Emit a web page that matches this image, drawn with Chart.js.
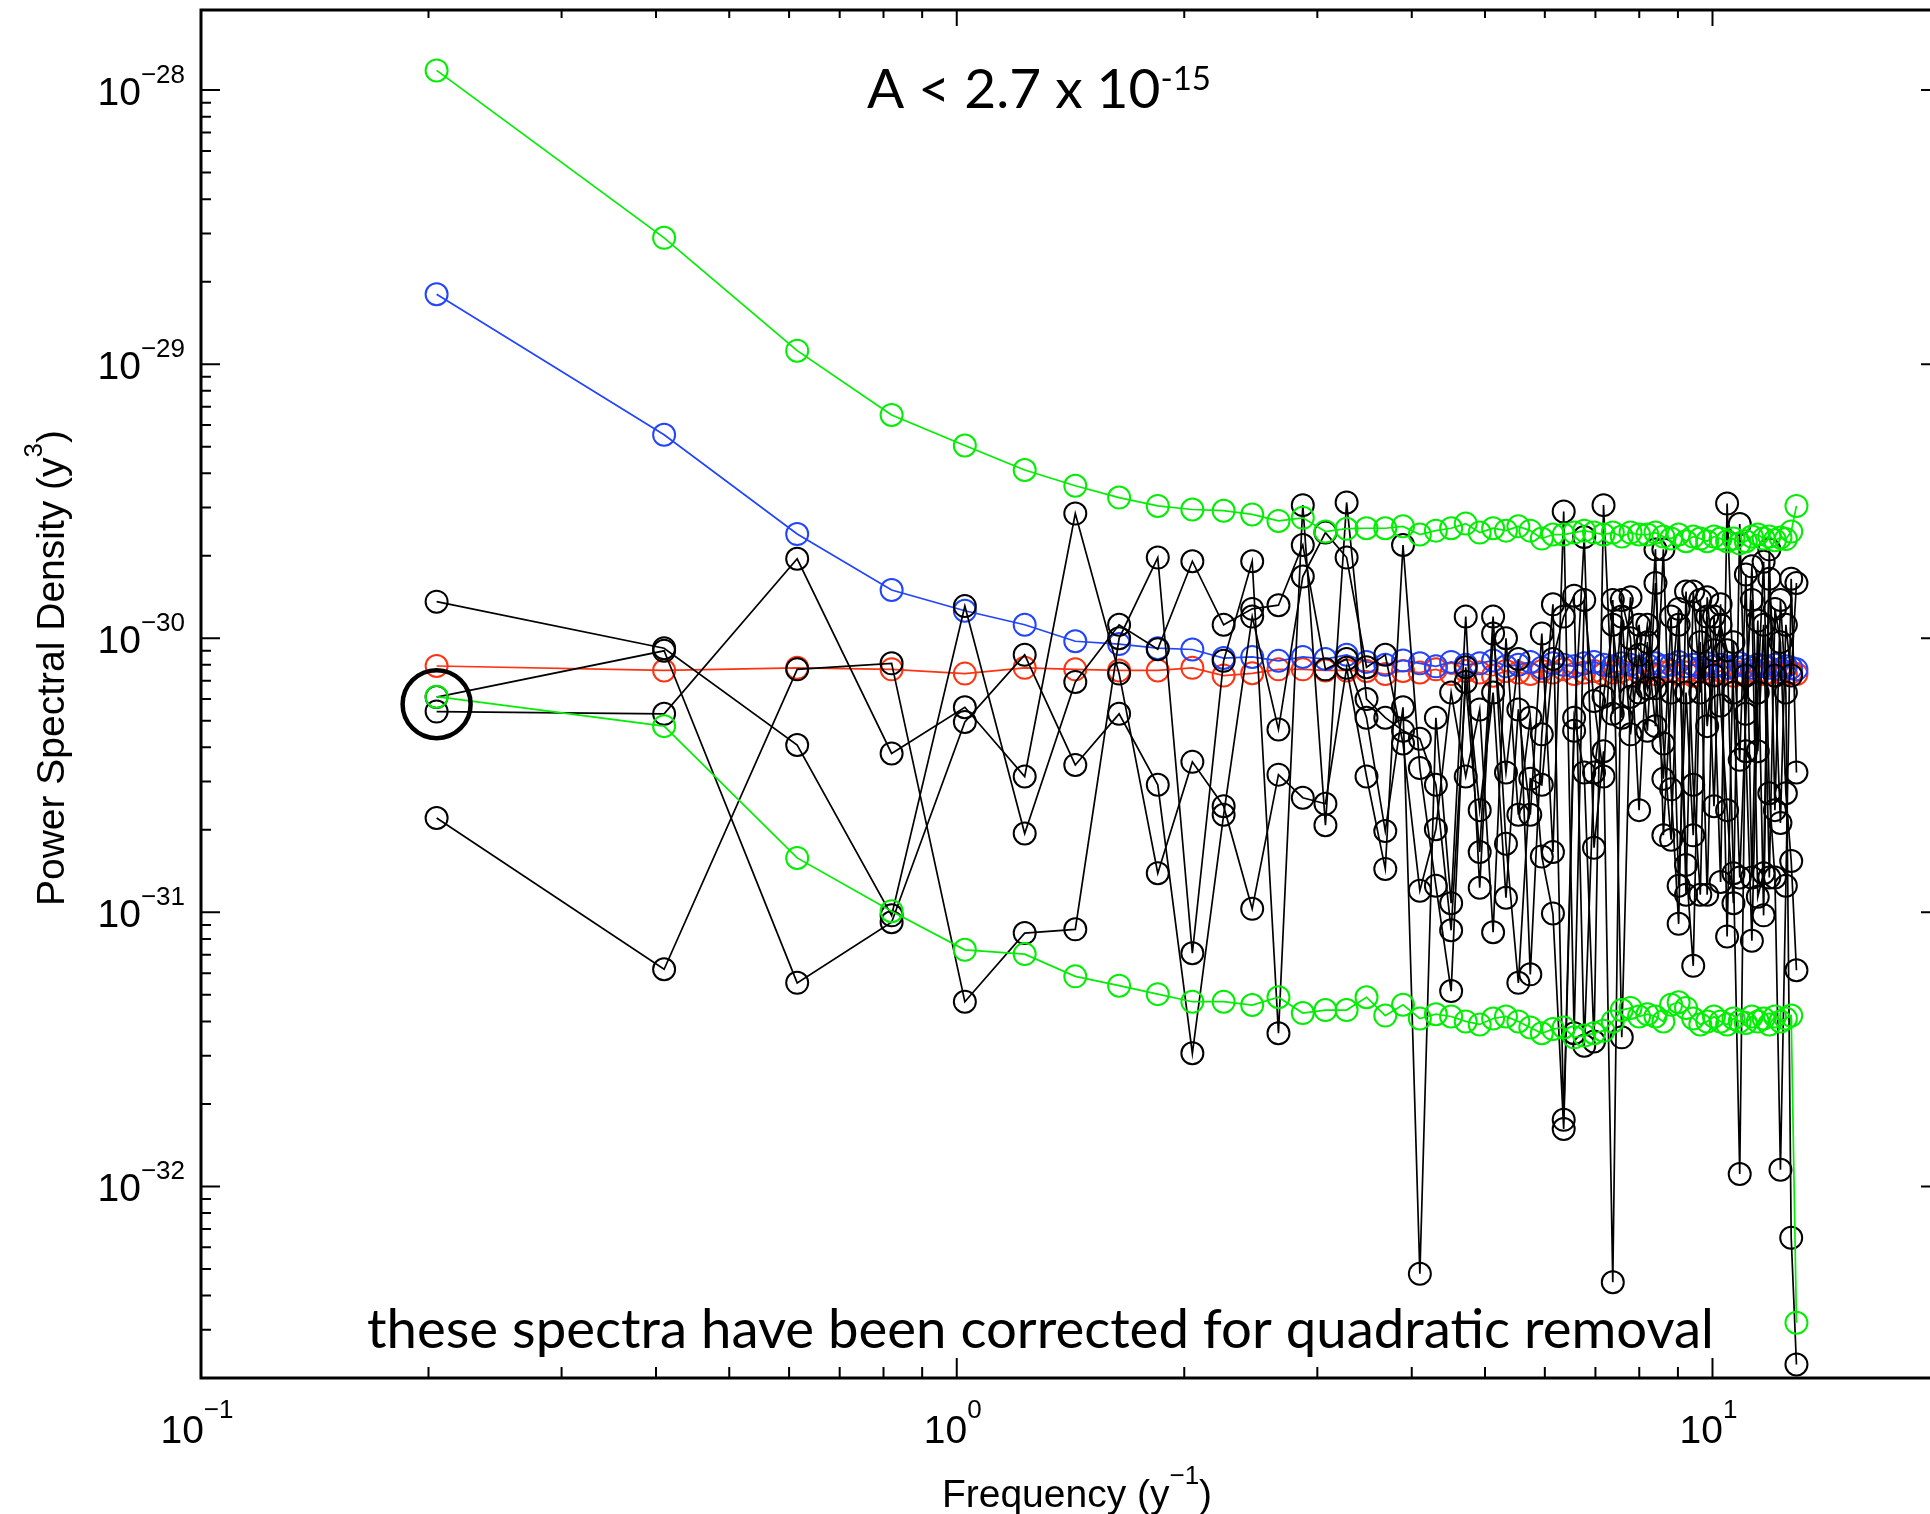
<!DOCTYPE html>
<html>
<head>
<meta charset="utf-8">
<title>Power Spectral Density</title>
<script src="https://cdn.jsdelivr.net/npm/chart.js@4.4.1/dist/chart.umd.min.js"></script>
<style>
  html, body { margin: 0; padding: 0; background: #fff; overflow: hidden; }
  canvas { display: block; }
</style>
</head>
<body>
<canvas id="psdChart" width="1960" height="1514"></canvas>
<script>
// frequencies (1/yr) shared by every spectrum
const freqs = [0.205, 0.41, 0.615, 0.82, 1.025, 1.23, 1.435, 1.64, 1.845, 2.05, 2.255, 2.46, 2.665, 2.87, 3.075, 3.28,
  3.485, 3.69, 3.895, 4.1, 4.305, 4.51, 4.715, 4.92, 5.125, 5.33, 5.535, 5.74, 5.945, 6.15, 6.355, 6.56, 6.765, 6.97,
  7.175, 7.38, 7.585, 7.79, 7.995, 8.2, 8.405, 8.61, 8.815, 9.02, 9.225, 9.43, 9.635, 9.84, 10.045, 10.25, 10.455,
  10.66, 10.865, 11.07, 11.275, 11.48, 11.685, 11.89, 12.095, 12.3, 12.505, 12.71, 12.915];

// green envelope
const upperLimit = [1.18e-28, 2.89e-29, 1.12e-29, 6.53e-30, 5.05e-30, 4.11e-30, 3.6e-30, 3.26e-30, 3.04e-30, 2.95e-30,
  2.92e-30, 2.83e-30, 2.68e-30, 2.75e-30, 2.45e-30, 2.51e-30, 2.52e-30, 2.52e-30, 2.56e-30, 2.39e-30, 2.47e-30,
  2.52e-30, 2.62e-30, 2.43e-30, 2.52e-30, 2.47e-30, 2.56e-30, 2.47e-30, 2.31e-30, 2.39e-30, 2.39e-30, 2.43e-30,
  2.47e-30, 2.43e-30, 2.39e-30, 2.43e-30, 2.35e-30, 2.43e-30, 2.39e-30, 2.39e-30, 2.43e-30, 2.35e-30, 2.31e-30,
  2.39e-30, 2.26e-30, 2.35e-30, 2.31e-30, 2.26e-30, 2.35e-30, 2.31e-30, 2.26e-30, 2.31e-30, 2.22e-30, 2.26e-30,
  2.35e-30, 2.39e-30, 2.31e-30, 2.35e-30, 2.28e-30, 2.33e-30, 2.3e-30, 2.45e-30, 3.04e-30];
const lowerLimit = [6.12e-31, 4.78e-31, 1.58e-31, 1.01e-31, 7.3e-32, 7.04e-32, 5.84e-32, 5.4e-32, 5.03e-32, 4.72e-32,
  4.72e-32, 4.59e-32, 4.9e-32, 4.29e-32, 4.4e-32, 4.4e-32, 4.9e-32, 4.2e-32, 4.6e-32, 4.1e-32, 4.25e-32, 4.17e-32,
  4.0e-32, 3.9e-32, 4.1e-32, 4.17e-32, 4.0e-32, 3.8e-32, 3.62e-32, 3.75e-32, 3.8e-32, 3.5e-32, 3.55e-32, 3.62e-32,
  3.7e-32, 4.0e-32, 4.4e-32, 4.48e-32, 4.17e-32, 4.25e-32, 4.17e-32, 4.0e-32, 4.6e-32, 4.7e-32, 4.48e-32, 4.1e-32,
  3.9e-32, 4.0e-32, 4.17e-32, 4.0e-32, 3.9e-32, 4.1e-32, 4.0e-32, 3.95e-32, 4.17e-32, 4.0e-32, 4.1e-32, 3.9e-32,
  4.17e-32, 4.0e-32, 4.1e-32, 4.2e-32, 3.18e-33];

// blue and red mean spectra
const blueSpectrum = [1.8e-29, 5.53e-30, 2.4e-30, 1.5e-30, 1.26e-30, 1.12e-30, 9.75e-31, 9.52e-31, 9.2e-31, 9.1e-31,
  8.47e-31, 8.55e-31, 8.27e-31, 8.55e-31, 8.4e-31, 8.7e-31, 8.2e-31, 8.0e-31, 8.3e-31, 8.1e-31, 7.9e-31, 8.2e-31,
  8.0e-31, 8.1e-31, 8.3e-31, 7.9e-31, 8.0e-31, 8.2e-31, 7.8e-31, 8.1e-31, 8.0e-31, 7.9e-31, 8.1e-31, 8.2e-31, 8.0e-31,
  7.9e-31, 8.1e-31, 8.0e-31, 7.8e-31, 8.0e-31, 8.1e-31, 7.9e-31, 8.0e-31, 8.2e-31, 7.9e-31, 8.0e-31, 7.8e-31, 8.1e-31,
  7.9e-31, 8.0e-31, 7.8e-31, 7.9e-31, 8.1e-31, 7.9e-31, 7.8e-31, 8.0e-31, 7.9e-31, 7.8e-31, 8.0e-31, 7.7e-31, 7.9e-31,
  7.8e-31, 7.7e-31];
const redSpectrum = [7.92e-31, 7.63e-31, 7.8e-31, 7.7e-31, 7.43e-31, 7.8e-31, 7.7e-31, 7.63e-31, 7.63e-31, 7.8e-31,
  7.31e-31, 7.45e-31, 7.7e-31, 7.7e-31, 7.63e-31, 7.63e-31, 7.6e-31, 7.4e-31, 7.6e-31, 7.5e-31, 7.7e-31, 7.4e-31,
  7.6e-31, 7.5e-31, 7.3e-31, 7.6e-31, 7.5e-31, 7.4e-31, 7.6e-31, 7.5e-31, 7.7e-31, 7.4e-31, 7.5e-31, 7.6e-31, 7.4e-31,
  7.5e-31, 7.6e-31, 7.3e-31, 7.5e-31, 7.6e-31, 7.4e-31, 7.5e-31, 7.6e-31, 7.4e-31, 7.5e-31, 7.3e-31, 7.6e-31, 7.5e-31,
  7.4e-31, 7.6e-31, 7.5e-31, 7.3e-31, 7.5e-31, 7.4e-31, 7.6e-31, 7.5e-31, 7.4e-31, 7.5e-31, 7.3e-31, 7.5e-31, 7.4e-31,
  7.5e-31, 7.4e-31];

// black spectra
const spectrumA = [1.36e-30, 9.2e-31, 4.08e-31, 9.75e-32, 1.31e-30, 1.94e-31, 6.93e-31, 1.12e-30, 9.12e-31, 1.91e-30,
  1.12e-30, 1.28e-30, 1.32e-30, 2.19e-30, 7.7e-31, 8.4e-31, 5.13e-31, 1.98e-31, 5.6e-31, 4.8e-33, 5.13e-31, 1.08e-31,
  1.2e-30, 1.23e-31, 1.04e-30, 3.24e-31, 8.4e-31, 5.94e-32, 4.46e-31, 1.33e-30, 1.75e-32, 5.13e-31, 3.24e-31, 3.38e-32,
  3.06e-30, 5.3e-31, 1.2e-30, 4.46e-31, 8.7e-31, 6.57e-31, 2.11e-30, 1.91e-31, 6.34e-31, 1.28e-30, 1.16e-31, 1.48e-30,
  6.34e-31, 1.2e-30, 2.44e-31, 1.33e-30, 8.17e-32, 9.68e-31, 3.6e-31, 1.71e-30, 1.34e-31, 1.16e-30, 9.75e-32, 1.65e-30,
  7.31e-31, 2.12e-31, 1.12e-30, 7.31e-31, 1.59e-30];
const spectrumB = [6.1e-31, 9.0e-31, 5.53e-32, 9.2e-32, 4.95e-31, 8.7e-31, 3.45e-31, 5.3e-31, 2.92e-31, 3.06e-32,
  2.27e-31, 1.2e-30, 4.65e-31, 1.68e-30, 2.43e-30, 1.97e-30, 7.84e-31, 8.7e-31, 4.13e-31, 1.2e-31, 2.01e-31, 6.34e-31,
  3.13e-31, 5.5e-31, 8.46e-32, 1.0e-30, 2.27e-31, 5.13e-31, 1.6e-31, 9.9e-32, 1.62e-32, 4.6e-31, 2.34e-30, 1.72e-31,
  3.87e-31, 4.47e-33, 1.38e-30, 1.0e-30, 2.36e-31, 9.68e-31, 4.78e-31, 2.11e-30, 2.81e-31, 9.08e-32, 1.48e-30, 2.92e-31,
  1.16e-31, 1.41e-30, 7.31e-31, 1.29e-31, 3.1e-30, 6.34e-31, 1.34e-31, 5.3e-31, 1.83e-30, 3.87e-31, 1.12e-30, 1.34e-31,
  1.28e-30, 9.68e-31, 2.72e-31, 1.54e-31, 6.15e-32];
const spectrumC = [5.4e-31, 5.3e-31, 1.95e-30, 3.8e-31, 5.6e-31, 3.13e-31, 2.85e-30, 7.43e-31, 1.39e-31, 3.54e-31,
  2.44e-31, 1.03e-31, 3.18e-31, 2.62e-31, 2.49e-31, 7.8e-31, 3.13e-31, 1.44e-31, 2.19e-30, 3.36e-31, 1.25e-31, 5.16e-32,
  7.84e-31, 2.36e-31, 6.34e-31, 1.13e-31, 5.5e-31, 2.27e-31, 1.04e-30, 1.66e-31, 2.9e-30, 3.62e-32, 1.38e-30, 5.9e-31,
  3.13e-31, 1.38e-30, 3.5e-32, 6.12e-31, 1.12e-30, 4.6e-31, 1.59e-30, 4.13e-31, 1.84e-31, 1.12e-30, 1.49e-31, 6.38e-32,
  9.68e-31, 1.16e-31, 1.2e-30, 5.68e-31, 2.36e-31, 1.08e-31, 2.61e-30, 3.87e-31, 7.88e-32, 6.34e-31, 1.9e-30, 2.72e-31,
  1.34e-31, 1.15e-32, 1.25e-31, 1.65e-30, 3.24e-31];
const spectrumD = [2.21e-31, 6.2e-32, 7.7e-31, 8.1e-31, 4.72e-32, 8.4e-32, 8.67e-32, 1.0e-30, 1.97e-30, 7.09e-32,
  8.27e-31, 1.91e-30, 3.62e-32, 3.06e-30, 2.08e-31, 3.13e-30, 6.0e-31, 5.13e-31, 4.6e-31, 4.3e-31, 2.92e-31, 8.6e-32,
  6.93e-31, 1.66e-31, 1.2e-30, 1.78e-31, 5.53e-32, 3.07e-31, 2.92e-31, 8.4e-31, 1.2e-30, 1.43e-30, 3.26e-32, 3.24e-31,
  6.12e-31, 1.12e-30, 5.13e-31, 1.41e-30, 6.34e-31, 1.12e-30, 6.57e-31, 3.07e-31, 1.2e-30, 1.25e-31, 6.34e-31, 1.91e-31,
  1.38e-30, 4.78e-31, 9.04e-31, 1.12e-30, 9.04e-31, 1.39e-31, 1.11e-32, 7.31e-31, 1.38e-30, 1.14e-31, 1.39e-31, 2.11e-30,
  2.36e-31, 1.38e-30, 6.34e-31, 6.5e-33, 2.24e-33];

// the marked point at the lowest frequency
const markedFreq = [0.205];
const markedPsd = [5.75e-31];

// axis ticks and labels
const xMajorTicks = [0.1, 1, 10];
const xTickExponents = ['\u22121', '0', '1'];
const xMinorTicks = [0.2, 0.3, 0.4, 0.5, 0.6, 0.7, 0.8, 0.9, 2, 3, 4, 5, 6, 7, 8, 9];
const yMajorTicks = [1e-32, 1e-31, 1e-30, 1e-29, 1e-28];
const yTickExponents = ['\u221232', '\u221231', '\u221230', '\u221229', '\u221228'];
const yMinorTicks = [3e-33, 4e-33, 5e-33, 6e-33, 7e-33, 8e-33, 9e-33,
  2e-32, 3e-32, 4e-32, 5e-32, 6e-32, 7e-32, 8e-32, 9e-32,
  2e-31, 3e-31, 4e-31, 5e-31, 6e-31, 7e-31, 8e-31, 9e-31,
  2e-30, 3e-30, 4e-30, 5e-30, 6e-30, 7e-30, 8e-30, 9e-30,
  2e-29, 3e-29, 4e-29, 5e-29, 6e-29, 7e-29, 8e-29, 9e-29];

const AXIS_FONT = '"Liberation Sans", Arial, Helvetica, sans-serif';
const NOTE_FONT = 'Lato, "Open Sans", sans-serif';

const GREEN = '#00ee00';
const BLUE = '#2244ff';
const RED = '#ff3311';
const BLACK = '#000000';

function toPoints(ys) {
    return freqs.map((f, i) => ({ x: f, y: ys[i] }));
}

function spectrum(label, ys, color, order) {
    return {
        label: label,
        data: toPoints(ys),
        borderColor: color,
        borderWidth: 1.7,
        pointStyle: 'circle',
        pointRadius: 11,
        pointBorderWidth: 2,
        pointBorderColor: color,
        pointBackgroundColor: 'rgba(0,0,0,0)',
        tension: 0,
        order: order
    };
}

// draws text made of runs (base text + raised exponents)
function drawRuns(ctx, runs, x, y, align) {
    let total = 0;
    runs.forEach(r => {
        ctx.font = r.size + 'px ' + r.font;
        r.w = ctx.measureText(r.text).width;
        total += r.w;
    });
    let cx = x;
    if (align === 'right') cx = x - total;
    if (align === 'center') cx = x - total / 2;
    runs.forEach(r => {
        ctx.font = r.size + 'px ' + r.font;
        ctx.fillText(r.text, cx, y - (r.rise || 0));
        cx += r.w;
    });
}

const framePlugin = {
    id: 'idlFrame',
    afterDraw(chart) {
        const ctx = chart.ctx;
        const a = chart.chartArea;
        const xs = chart.scales.x;
        const ys = chart.scales.y;
        ctx.save();
        ctx.strokeStyle = BLACK;
        ctx.fillStyle = BLACK;
        ctx.lineWidth = 3;
        ctx.strokeRect(a.left, a.top, a.right - a.left, a.bottom - a.top);

        // tick marks point inwards on all four sides
        ctx.lineWidth = 2;
        ctx.beginPath();
        xMajorTicks.forEach(v => {
            const px = xs.getPixelForValue(v);
            ctx.moveTo(px, a.bottom); ctx.lineTo(px, a.bottom - 20);
            ctx.moveTo(px, a.top); ctx.lineTo(px, a.top + 16);
        });
        xMinorTicks.forEach(v => {
            const px = xs.getPixelForValue(v);
            ctx.moveTo(px, a.bottom); ctx.lineTo(px, a.bottom - 11);
            ctx.moveTo(px, a.top); ctx.lineTo(px, a.top + 8);
        });
        yMajorTicks.forEach(v => {
            const py = ys.getPixelForValue(v);
            ctx.moveTo(a.left, py); ctx.lineTo(a.left + 19, py);
            ctx.moveTo(a.right, py); ctx.lineTo(a.right - 19, py);
        });
        yMinorTicks.forEach(v => {
            const py = ys.getPixelForValue(v);
            ctx.moveTo(a.left, py); ctx.lineTo(a.left + 10, py);
            ctx.moveTo(a.right, py); ctx.lineTo(a.right - 10, py);
        });
        ctx.stroke();

        // tick labels
        ctx.textAlign = 'left';
        ctx.textBaseline = 'alphabetic';
        xMajorTicks.forEach((v, i) => {
            const px = xs.getPixelForValue(v);
            drawRuns(ctx, [
                { text: '10', size: 39, font: AXIS_FONT },
                { text: xTickExponents[i], size: 26, font: AXIS_FONT, rise: 25 }
            ], px - 4, a.bottom + 65, 'center');
        });
        yMajorTicks.forEach((v, i) => {
            const py = ys.getPixelForValue(v);
            drawRuns(ctx, [
                { text: '10', size: 39, font: AXIS_FONT },
                { text: yTickExponents[i], size: 26, font: AXIS_FONT, rise: 22 }
            ], a.left - 16, py + 15, 'right');
        });

        // axis titles
        drawRuns(ctx, [
            { text: 'Frequency (y', size: 39, font: AXIS_FONT },
            { text: '\u22121', size: 26, font: AXIS_FONT, rise: 23 },
            { text: ')', size: 39, font: AXIS_FONT }
        ], 1077, 1507, 'center');

        ctx.save();
        ctx.translate(64, 668);
        ctx.rotate(-Math.PI / 2);
        drawRuns(ctx, [
            { text: 'Power Spectral Density (y', size: 39, font: AXIS_FONT },
            { text: '3', size: 26, font: AXIS_FONT, rise: 22 },
            { text: ')', size: 39, font: AXIS_FONT }
        ], 0, 0, 'center');
        ctx.restore();

        // annotations inside the frame
        drawRuns(ctx, [
            { text: 'A < 2.7 x 10', size: 55, font: NOTE_FONT },
            { text: '-15', size: 33, font: NOTE_FONT, rise: 18 }
        ], 867, 108, 'left');
        drawRuns(ctx, [
            { text: 'these spectra have been corrected for quadratic removal', size: 54.5, font: NOTE_FONT }
        ], 367, 1348, 'left');

        ctx.restore();
    }
};

const ctx = document.getElementById('psdChart').getContext('2d');

const marked = {
    label: 'marked',
    data: markedFreq.map((f, i) => ({ x: f, y: markedPsd[i] })),
    showLine: false,
    pointStyle: 'circle',
    pointRadius: 34,
    pointBorderWidth: 4.5,
    pointBorderColor: BLACK,
    pointBackgroundColor: 'rgba(0,0,0,0)',
    order: 0
};

new Chart(ctx, {
    type: 'line',
    data: {
        datasets: [
            marked,
            spectrum('upper', upperLimit, GREEN, 0),
            spectrum('lower', lowerLimit, GREEN, 0),
            spectrum('A', spectrumA, BLACK, 1),
            spectrum('B', spectrumB, BLACK, 1),
            spectrum('C', spectrumC, BLACK, 1),
            spectrum('D', spectrumD, BLACK, 1),
            spectrum('blue', blueSpectrum, BLUE, 2),
            spectrum('red', redSpectrum, RED, 3)
        ]
    },
    options: {
        responsive: false,
        animation: false,
        devicePixelRatio: 1,
        layout: {
            autoPadding: false,
            padding: { left: 201, right: 20, top: 10, bottom: 136 }
        },
        plugins: {
            legend: { display: false },
            tooltip: { enabled: false }
        },
        scales: {
            x: {
                type: 'logarithmic',
                display: false,
                bounds: 'data',
                min: 0.1,
                max: 20
            },
            y: {
                type: 'logarithmic',
                display: false,
                bounds: 'data',
                min: 2e-33,
                max: 1.96e-28
            }
        }
    },
    plugins: [framePlugin]
});
</script>
</body>
</html>
